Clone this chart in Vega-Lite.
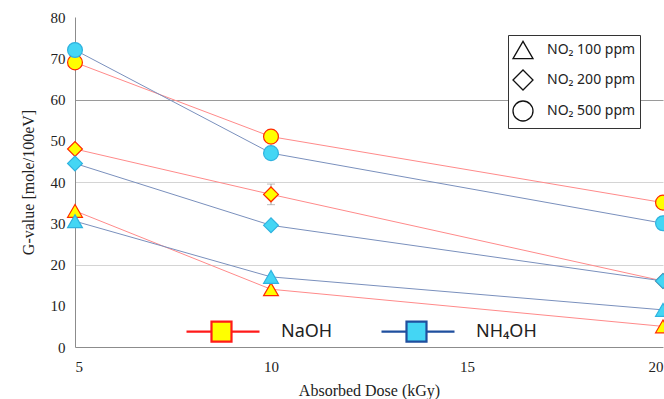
{
  "$schema": "https://vega.github.io/schema/vega-lite/v6.json",
  "autosize": "none",
  "width": 588,
  "height": 330,
  "padding": {"left": 75, "top": 17, "right": 1, "bottom": 52},
  "background": "white",
  "config": {
    "view": {"stroke": null},
    "axis": {
      "labelFont": "Liberation Serif",
      "titleFont": "Liberation Serif",
      "labelFontSize": 15,
      "titleFontSize": 16,
      "labelColor": "#222",
      "titleColor": "#222",
      "titleFontWeight": "normal",
      "domainColor": "#8c8c8c",
      "ticks": false
    }
  },
  "datasets": {
    "pts": [
      {"dose": 5, "g": 33, "base": "NaOH", "no2": "NO₂ 100 ppm"},
      {"dose": 10, "g": 14, "base": "NaOH", "no2": "NO₂ 100 ppm"},
      {"dose": 20, "g": 5, "base": "NaOH", "no2": "NO₂ 100 ppm"},
      {"dose": 5, "g": 48, "base": "NaOH", "no2": "NO₂ 200 ppm"},
      {"dose": 10, "g": 37, "base": "NaOH", "no2": "NO₂ 200 ppm"},
      {"dose": 20, "g": 16, "base": "NaOH", "no2": "NO₂ 200 ppm"},
      {"dose": 5, "g": 69, "base": "NaOH", "no2": "NO₂ 500 ppm"},
      {"dose": 10, "g": 51, "base": "NaOH", "no2": "NO₂ 500 ppm"},
      {"dose": 20, "g": 35, "base": "NaOH", "no2": "NO₂ 500 ppm"},
      {"dose": 5, "g": 30.5, "base": "NH₄OH", "no2": "NO₂ 100 ppm"},
      {"dose": 10, "g": 17, "base": "NH₄OH", "no2": "NO₂ 100 ppm"},
      {"dose": 20, "g": 9, "base": "NH₄OH", "no2": "NO₂ 100 ppm"},
      {"dose": 5, "g": 44.5, "base": "NH₄OH", "no2": "NO₂ 200 ppm"},
      {"dose": 10, "g": 29.5, "base": "NH₄OH", "no2": "NO₂ 200 ppm"},
      {"dose": 20, "g": 16, "base": "NH₄OH", "no2": "NO₂ 200 ppm"},
      {"dose": 5, "g": 72, "base": "NH₄OH", "no2": "NO₂ 500 ppm"},
      {"dose": 10, "g": 47, "base": "NH₄OH", "no2": "NO₂ 500 ppm"},
      {"dose": 20, "g": 30, "base": "NH₄OH", "no2": "NO₂ 500 ppm"}
    ],
    "err": [
      {"dose": 10, "lo": 34.5, "hi": 39.5}
    ]
  },
  "layer": [
    {
      "data": {"name": "pts"},
      "mark": {"type": "line", "strokeWidth": 1},
      "encoding": {
        "x": {"field": "dose", "type": "quantitative", "title": "Absorbed Dose (kGy)",
              "scale": {"domain": [5, 20], "nice": false, "zero": false},
              "axis": {"values": [5, 10, 15, 20], "grid": false, "labelPadding": 12, "titlePadding": 8}},
        "y": {"field": "g", "type": "quantitative", "title": "G-value [mole/100eV]",
              "scale": {"domain": [0, 80], "nice": false},
              "axis": {"values": [0, 10, 20, 30, 40, 50, 60, 70, 80],
                       "gridColor": {"condition": [{"test": "datum.value === 60", "value": "#9a9a9a"}, {"test": "datum.value === 20 || datum.value === 40", "value": "#d4d4d4"}], "value": "transparent"},
                       "labelPadding": 10, "titlePadding": 14}},
        "stroke": {"condition": {"test": "datum.base === 'NaOH'", "value": "#ff8a8a"}, "value": "#7a90bd"},
        "detail": [{"field": "base", "type": "nominal"}, {"field": "no2", "type": "nominal"}]
      }
    },
    {
      "data": {"name": "err"},
      "mark": {"type": "errorbar", "ticks": {"size": 8}, "color": "#a0a0a0"},
      "encoding": {
        "x": {"field": "dose", "type": "quantitative", "title": "Absorbed Dose (kGy)"},
        "y": {"field": "lo", "type": "quantitative", "title": "G-value [mole/100eV]"},
        "y2": {"field": "hi"}
      }
    },
    {
      "data": {"name": "pts"},
      "mark": {"type": "point", "filled": false, "size": 0, "opacity": 1},
      "encoding": {
        "x": {"field": "dose", "type": "quantitative", "title": "Absorbed Dose (kGy)"},
        "y": {"field": "g", "type": "quantitative", "title": "G-value [mole/100eV]"},
        "fill": {"field": "base", "type": "nominal",
                 "scale": {"domain": ["NaOH", "NH₄OH"], "range": ["#ffff00", "#44d6f4"]}},
        "stroke": {"field": "base", "type": "nominal",
                   "scale": {"domain": ["NaOH", "NH₄OH"], "range": ["#ff1a1a", "#1f4f9e"]},
                   "legend": {
                     "orient": "none", "direction": "horizontal", "title": null,
                     "legendX": 135, "legendY": 303, "padding": 0,
                     "symbolType": "M-3.5,0H-1M1,0H3.8M-1,-1H1V1H-1Z",
                     "symbolSize": 400, "symbolStrokeWidth": 2.2, "symbolOpacity": 1,
                     "labelFont": "Noto Sans", "labelFontSize": 18, "labelColor": "#222",
                     "labelOffset": 48, "columnPadding": 44
                   }}
      }
    },
    {
      "data": {"name": "pts"},
      "mark": {"type": "point", "filled": false, "size": 220, "strokeWidth": 1.2, "opacity": 1},
      "encoding": {
        "x": {"field": "dose", "type": "quantitative", "title": "Absorbed Dose (kGy)"},
        "y": {"field": "g", "type": "quantitative", "title": "G-value [mole/100eV]"},
        "fill": {"field": "base", "type": "nominal"},
        "stroke": {"condition": {"test": "datum.base === 'NaOH'", "value": "#ff2a00"}, "value": "#2fb2df"},
        "shape": {"field": "no2", "type": "nominal",
                  "scale": {"domain": ["NO₂ 100 ppm", "NO₂ 200 ppm", "NO₂ 500 ppm"], "range": ["triangle-up", "diamond", "circle"]},
                  "legend": {
                    "orient": "none", "title": null,
                    "legendX": 433, "legendY": 18, "padding": 4,
                    "strokeColor": "#333", "fillColor": "white",
                    "symbolSize": 400, "symbolStrokeWidth": 1.3,
                    "symbolFillColor": "white", "symbolStrokeColor": "#111",
                    "labelFont": "Noto Sans", "labelFontSize": 14, "labelColor": "#222",
                    "labelOffset": 13, "rowPadding": 5
                  }}
      }
    }
  ]
}
